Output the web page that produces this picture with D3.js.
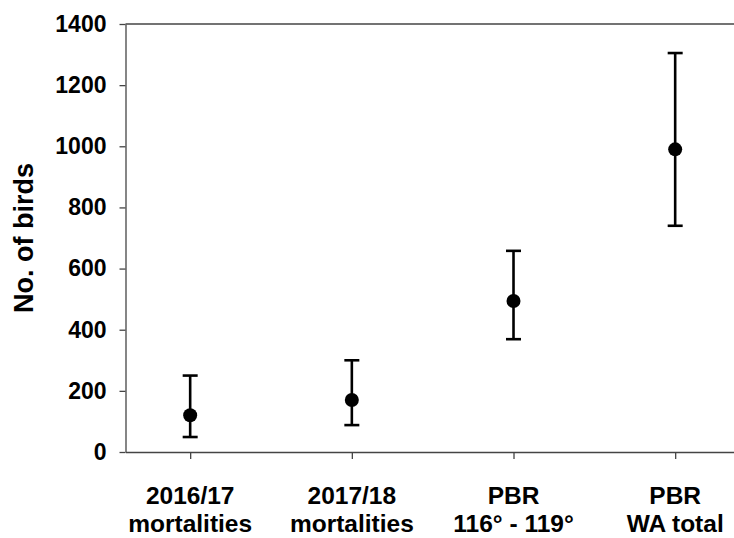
<!DOCTYPE html>
<html>
<head>
<meta charset="utf-8">
<script src="https://cdn.jsdelivr.net/npm/d3@7"></script>
<style>
  body { margin: 0; background: #fff; }
  text { font-family: "Liberation Sans", Arial, sans-serif; font-weight: bold; fill: #000; }
</style>
</head>
<body>
<svg id="chart" width="734" height="538"></svg>
<script>
// data
const categories = [['2016/17', 'mortalities'], ['2017/18', 'mortalities'], ['PBR', '116° - 119°'], ['PBR', 'WA total']]
const means = [120, 170, 494, 990]
const lower = [49, 88, 369, 740]
const upper = [250, 300, 658, 1305]
const yTicks = [0, 200, 400, 600, 800, 1000, 1200, 1400]

const width = 734
const height = 538
const margin = { top: 24, left: 125.5, bottom: 452 }

const svg = d3.select('#chart')

const x = d3.scaleLinear()
  .domain([0.6, 4.4])
  .range([margin.left, margin.left + 3.8 * 161.67])

const y = d3.scaleLinear()
  .domain([0, 1400])
  .range([margin.bottom, margin.top])

const axisColor = '#444'

// y axis
const yAxis = svg.append('g')
  .attr('transform', `translate(${margin.left},0)`)
  .call(d3.axisLeft(y).tickValues(yTicks).tickFormat(d3.format('d'))
    .tickSize(6).tickSizeOuter(0).tickPadding(13))
yAxis.select('.domain').attr('stroke', axisColor).attr('stroke-width', 1.3)
yAxis.selectAll('.tick line').attr('stroke', axisColor).attr('stroke-width', 1.3)
yAxis.selectAll('.tick text')
  .attr('font-size', 23)
  .attr('font-family', '"Liberation Sans", Arial, sans-serif')
  .attr('font-weight', 'bold')
  .attr('fill', '#000')

// top frame line
svg.append('line')
  .attr('x1', margin.left).attr('x2', width)
  .attr('y1', y(1400)).attr('y2', y(1400))
  .attr('stroke', axisColor).attr('stroke-width', 1.3)

// x axis
const xAxis = svg.append('g')
  .attr('transform', `translate(0,${y(0)})`)
  .call(d3.axisBottom(x).tickValues([1, 2, 3, 4]).tickSize(7).tickSizeOuter(0).tickFormat(''))
xAxis.select('.domain').attr('stroke', axisColor).attr('stroke-width', 1.3)
xAxis.selectAll('.tick line').attr('stroke', axisColor).attr('stroke-width', 1.3)

// category labels (two lines)
const labels = svg.append('g').attr('id', 'xlabels')
categories.forEach((c, i) => {
  const t = labels.append('text')
    .attr('text-anchor', 'middle')
    .attr('font-size', 24.5)
  t.append('tspan').attr('x', x(i + 1)).attr('y', 504).text(c[0])
  t.append('tspan').attr('x', x(i + 1)).attr('y', 532).text(c[1])
})

// y axis title
svg.append('text')
  .attr('transform', `translate(33,${(y(0) + y(1400)) / 2}) rotate(-90)`)
  .attr('text-anchor', 'middle')
  .attr('font-size', 27)
  .text('No. of birds')

// error bars
const capHalf = 7.5
const bars = svg.append('g').attr('id', 'errorbars')
  .selectAll('g')
  .data(means.map((m, i) => ({ i, m, lo: lower[i], hi: upper[i] })))
  .join('g')
  .attr('stroke', '#000')
  .attr('stroke-width', 2.6)

bars.append('line')
  .attr('x1', d => x(d.i + 1)).attr('x2', d => x(d.i + 1))
  .attr('y1', d => y(d.lo)).attr('y2', d => y(d.hi))
bars.append('line')
  .attr('x1', d => x(d.i + 1) - capHalf).attr('x2', d => x(d.i + 1) + capHalf)
  .attr('y1', d => y(d.hi)).attr('y2', d => y(d.hi))
bars.append('line')
  .attr('x1', d => x(d.i + 1) - capHalf).attr('x2', d => x(d.i + 1) + capHalf)
  .attr('y1', d => y(d.lo)).attr('y2', d => y(d.lo))

// points
svg.append('g').attr('id', 'points')
  .selectAll('circle')
  .data(means)
  .join('circle')
  .attr('cx', (d, i) => x(i + 1))
  .attr('cy', d => y(d))
  .attr('r', 7)
  .attr('fill', '#000')
</script>
</body>
</html>
